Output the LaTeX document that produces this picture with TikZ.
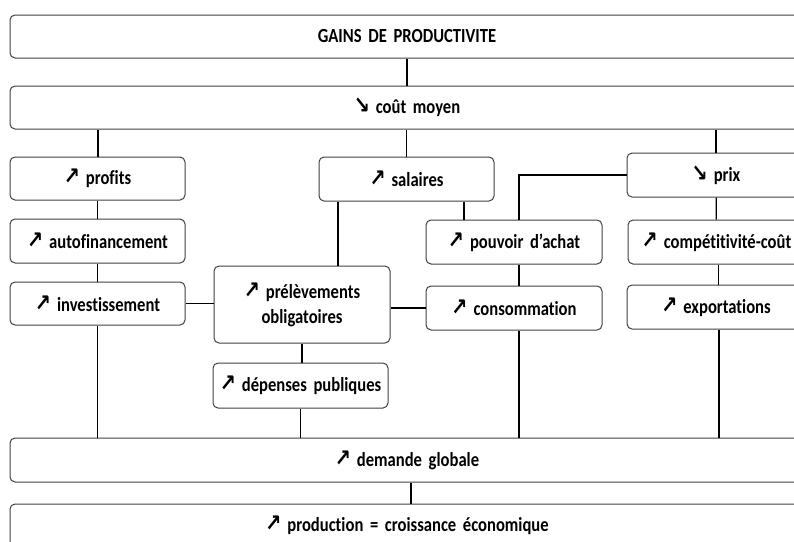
\documentclass[tikz,border=0pt]{standalone}
\usepackage{fontspec}
\setmainfont{Carlito}[FakeStretch=0.83, WordSpace=0.75, Ligatures=NoCommon]
\newfontfamily\arrowfont{DejaVu Sans}[FakeStretch=0.8]
\newcommand{\up}{{\arrowfont\bfseries\fontsize{24}{20}\selectfont ↗}\hspace{6pt}}
\newcommand{\down}{{\arrowfont\bfseries\fontsize{24}{20}\selectfont ↘}\hspace{6pt}}

\begin{document}
\begin{tikzpicture}[x=1pt,y=-1pt,
	box/.style={draw=black!75, line width=1pt, rounded corners=5pt, minimum height=43pt, text width=#1, align=center, inner sep=0pt, font=\bfseries\fontsize{20}{25}\selectfont},
	box/.default=175pt,
	link/.style={draw=black, line width=1.2pt}]
	\useasboundingbox (0,0) rectangle (794,541);
	\clip (0,0) rectangle (794,541);
	% top boxes
	\node[box=794pt] (gains) at (407,36.5) {GAINS DE PRODUCTIVITE};
	\node[box=794pt] (cout) at (407,107.5) {\down coût moyen};
	% first row
	\node[box] (profits) at (97.5,178.5) {\up profits};
	\node[box, minimum height=44pt] (salaires) at (406.5,179) {\up salaires};
	\node[box=178pt, minimum height=44pt] (prix) at (716,175) {\down prix};
	% second row
	\node[box, minimum height=44pt] (autof) at (97.5,241) {\up autofinancement};
	\node[box=176pt, minimum height=44pt] (pouvoir) at (514,242) {\up pouvoir d’achat};
	\node[box=177pt, minimum height=44pt] (compet) at (716.5,242) {\up compétitivité-coût};
	% third row
	\node[box] (invest) at (97.5,303.5) {\up investissement};
	\node[box=176pt, minimum height=77pt] (prelev) at (302,304.5) {\up prélèvements\\ obligatoires};
	\node[box=176pt, minimum height=44pt] (conso) at (514,308) {\up consommation};
	\node[box=178pt, minimum height=44pt] (export) at (716,307) {\up exportations};
	\node[box, minimum height=45pt] (depenses) at (300.5,385.5) {\up dépenses publiques};
	% bottom boxes
	\node[box=794pt, minimum height=44pt] (demande) at (407,460) {\up demande globale};
	\node[box=794pt] (production) at (407,525.5) {\up production = croissance économique};
	% links
	\draw[link] (gains) -- (cout);
	\draw[link] ([xshift=0.5pt]profits.north) -- ([xshift=0.5pt]profits.north |- cout.south);
	\draw[link] (salaires.north) -- (salaires.north |- cout.south);
	\draw[link] (prix.north) -- (prix.north |- cout.south);
	\draw[link] (profits) -- (autof);
	\draw[link] (autof) -- (invest);
	\draw[link] ([xshift=57.5pt]salaires.south) -- ([xshift=57.5pt]salaires.south |- pouvoir.north);
	\draw[link] ([xshift=-68.5pt]salaires.south) -- ([xshift=-68.5pt]salaires.south |- prelev.north);
	\draw[link] (prix.west) -| ([xshift=5pt]pouvoir.north);
	\draw[link] (prix) -- (compet);
	\draw[link] ([xshift=5pt]pouvoir.south) -- ([xshift=5pt]conso.north);
	\draw[link] ([xshift=2pt]compet.south) -- ([xshift=2pt]compet.south |- export.north);
	\draw[link] (invest.east) -- (invest.east -| prelev.west);
	\draw[link] (conso.west) -- (conso.west -| prelev.east);
	\draw[link] (prelev) -- (prelev |- depenses.north);
	\draw[link] (invest.south) -- (invest.south |- demande.north);
	\draw[link] (depenses.south) -- (depenses.south |- demande.north);
	\draw[link] ([xshift=5pt]conso.south) -- ([xshift=5pt]conso.south |- demande.north);
	\draw[link] ([xshift=3pt]export.south) -- ([xshift=3pt]export.south |- demande.north);
	\draw[link] ([xshift=4pt]demande.south) -- ([xshift=4pt]production.north);
\end{tikzpicture}
\end{document}
